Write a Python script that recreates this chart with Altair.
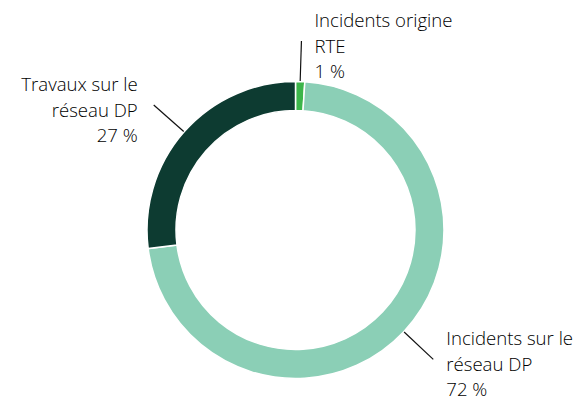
import math
import altair as alt
import pandas as pd

# Data
categories = ["Incidents origine RTE", "Incidents sur le réseau DP", "Travaux sur le réseau DP"]
label_lines = ["Incidents origine\nRTE", "Incidents sur le\nréseau DP", "Travaux sur le\nréseau DP"]
values = [1, 72, 27]
colors = ["#3cb54a", "#8bcfb6", "#0d3b31"]

W, H = 571, 393
CX, CY = 287.5, 222  # donut centre inside the view (pixels from top-left)
R_OUT, R_IN = 148.5, 119.5
R_LINE0, R_LINE1 = 149, 189

total = sum(values)
rows = []
cum = 0
for i, (c, lab, v) in enumerate(zip(categories, label_lines, values)):
    mid = (cum + v / 2) / total * 2 * math.pi
    cum += v
    rows.append({
        "cat": c,
        "label": f"{lab}\n{v} %",
        "value": v,
        "order": i,
        "cx": 0.0,
        "cy": 0.0,
        "x0": R_LINE0 * math.sin(mid),
        "y0": R_LINE0 * math.cos(mid),
        "x1": R_LINE1 * math.sin(mid),
        "y1": R_LINE1 * math.cos(mid),
        "side": "right" if math.sin(mid) >= 0 else "left",
    })
df = pd.DataFrame(rows)

xs = alt.Scale(domain=[-CX, W - CX], nice=False, zero=False)
ys = alt.Scale(domain=[-(H - CY), CY], nice=False, zero=False)

base = alt.Chart(df)

arc = base.mark_arc(outerRadius=R_OUT, innerRadius=R_IN, stroke="white", strokeWidth=1.5).encode(
    theta=alt.Theta("value:Q", stack=True),
    order=alt.Order("order:Q"),
    color=alt.Color("cat:N", scale=alt.Scale(domain=categories, range=colors), legend=None),
    x=alt.X("cx:Q", scale=xs, axis=None),
    y=alt.Y("cy:Q", scale=ys, axis=None),
)

leaders = base.mark_rule(color="#111111", strokeWidth=1.2).encode(
    x=alt.X("x0:Q", scale=xs, axis=None),
    y=alt.Y("y0:Q", scale=ys, axis=None),
    x2="x1:Q",
    y2="y1:Q",
)

text_common = dict(font="Open Sans", fontSize=18.6, fontWeight=300, color="#000000",
                   baseline="middle", lineBreak="\n", lineHeight=25.5, dy=-20)

text_right = base.transform_filter(alt.datum.side == "right").mark_text(
    align="left", dx=13, **text_common
).encode(
    x=alt.X("x1:Q", scale=xs, axis=None),
    y=alt.Y("y1:Q", scale=ys, axis=None),
    text="label:N",
)

text_left = base.transform_filter(alt.datum.side == "left").mark_text(
    align="right", dx=-16, **text_common
).encode(
    x=alt.X("x1:Q", scale=xs, axis=None),
    y=alt.Y("y1:Q", scale=ys, axis=None),
    text="label:N",
)

chart = alt.layer(arc, leaders, text_right, text_left).properties(
    width=W, height=H, padding=0, autosize="none"
).configure_view(stroke=None)

chart.save("out.html", embed_options={"renderer": "svg", "actions": False})
